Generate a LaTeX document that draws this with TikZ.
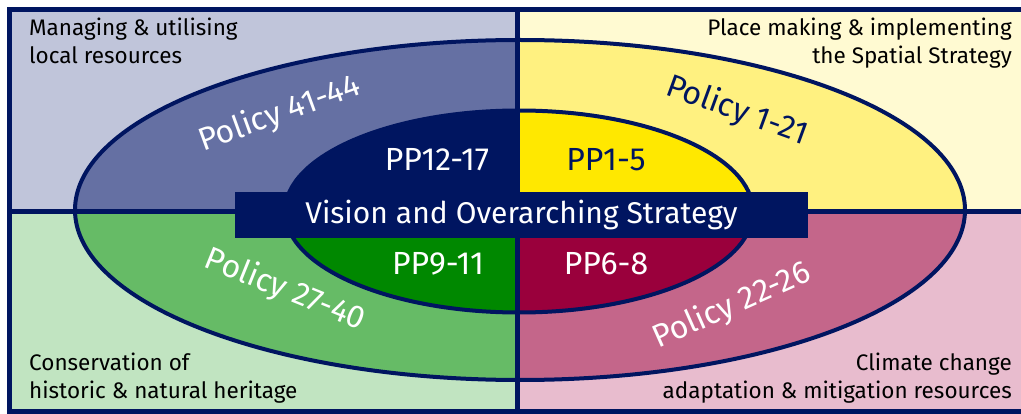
\documentclass[tikz,border=0pt]{standalone}
\usepackage{fontspec}
\setmainfont{Fira Sans}
\usetikzlibrary{positioning}

\definecolor{navy}{RGB}{0,21,96}
\definecolor{tlbg}{RGB}{192,197,218}
\definecolor{tlring}{RGB}{101,112,163}
\definecolor{trbg}{RGB}{255,250,210}
\definecolor{trring}{RGB}{255,241,128}
\definecolor{trcore}{RGB}{255,232,0}
\definecolor{blbg}{RGB}{193,228,193}
\definecolor{blring}{RGB}{102,187,102}
\definecolor{blcore}{RGB}{0,136,0}
\definecolor{brbg}{RGB}{232,188,206}
\definecolor{brring}{RGB}{196,102,138}
\definecolor{brcore}{RGB}{154,0,60}

\begin{document}
\begin{tikzpicture}[x=1pt,y=-1pt,
  corner/.style={font=\fontsize{22.5}{28}\selectfont,inner sep=0pt},
  policy/.style={font=\fontsize{32}{34}\selectfont,inner sep=0pt},
  pp/.style={font=\fontsize{32}{34}\selectfont,inner sep=0pt,text=white}]
\useasboundingbox (0,0) rectangle (1021,414);
\foreach \qx/\qy/\qw/\qh/\bg/\ring/\core in
  {0/0/517.5/211.5/tlbg/tlring/navy, 517.5/0/510/211.5/trbg/trring/trcore,
   0/211.5/517.5/210/blbg/blring/blcore, 517.5/211.5/510/210/brbg/brring/brcore}{
  \begin{scope}
    \clip (\qx,\qy) rectangle ++(\qw,\qh);
    \fill[\bg] (9,10) rectangle (1025,411);
    \fill[\ring] (520,210) ellipse [x radius=445pt, y radius=170pt];
    \fill[\core] (519,211.5) ellipse [x radius=234pt, y radius=101pt];
  \end{scope}
}
\draw[navy,line width=4pt] (520,210) ellipse [x radius=445pt, y radius=170pt];
\draw[navy,line width=4pt] (519,211.5) ellipse [x radius=234pt, y radius=101pt];
\coordinate (top) at (517.5,10);
\coordinate (bottom) at (517.5,411);
\coordinate (left) at (9,211.5);
\coordinate (right) at (1025,211.5);
\draw[navy,line width=5pt] (top) -- (bottom);
\draw[navy,line width=4.5pt] (left) -- (right);
\draw[navy,line width=5pt] (9.5,10) rectangle (1025,411);

\node[fill=navy,text=white,minimum width=573pt,minimum height=46pt,
  font=\fontsize{30}{32}\selectfont] (vision) at (521.5,215) {Vision and Overarching Strategy};

\node[pp] (pp12) at (437,160) {PP12-17};
\node[pp,text=navy] (pp1) at (606,160) {PP1-5};
\node[pp] (pp9) at (438,264) {PP9-11};
\node[pp] (pp6) at (606,264) {PP6-8};

\node[policy,text=white,rotate=20] (pol41) at (280,114) {Policy 41-44};
\node[policy,text=navy,rotate=-20] (pol1) at (737,111) {Policy 1-21};
\node[policy,text=white,rotate=-22] (pol27) at (285,290) {Policy 27-40};
\node[policy,text=white,rotate=24] (pol22) at (732,306) {Policy 22-26};

\node[corner,anchor=base west,align=left] (manage) at (29,64) {Managing \& utilising\\local resources};
\node[corner,anchor=base east,align=right] (place) at (1012,64) {Place making \& implementing\\the Spatial Strategy};
\node[corner,anchor=base west,align=left] (heritage) at (29,398) {Conservation of\\historic \& natural heritage};
\node[corner,anchor=base east,align=right] (climate) at (1012,398) {Climate change\\adaptation \& mitigation resources};
\end{tikzpicture}
\end{document}
